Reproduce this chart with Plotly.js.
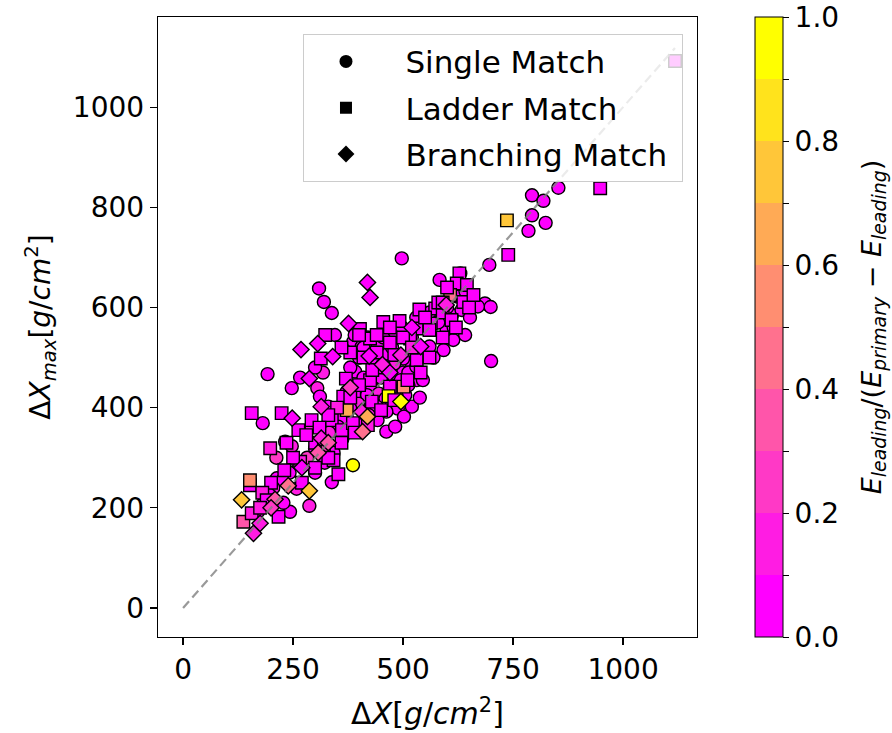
<!DOCTYPE html>
<html>
<head>
<meta charset="utf-8">
<script src="https://cdn.plot.ly/plotly-3.0.1.min.js"></script>
<style>
  html, body { margin: 0; padding: 0; background: #fff; }
  #chart { width: 892px; height: 733px; }
</style>
</head>
<body>
<div id="chart"></div>
<script>
// Single-match showers: depth difference vs. Xmax difference, colour = leading energy fraction
const singleX = [497,583,309,320,338,630,696,686,699,611,633,599,641,614,592,569,700,527,520,531,
  853,793,819,793,824,785,345,387,406,192,266,247,305,311,391,181,247,386,338,213,287,243,478,497,
  430,445,460,475,488,505,512,500,472,452,432,418,440,462,398,380,362,352,332,320,300,282,262,242,
  226,205,196,180,170,228,258,300,322,342,362,382,402,422,442,462,482,502,520,538,
  560,540,520,500,480,462,442,420,400,380,318,300,232,212,520,550,580,600,622,642,652,
  670,330,292,410,392,372,450,470,485,495,512,530,545,455,475,430,410,390,615,560,530];
const singleY = [698,655,638,611,589,668,685,608,601,585,595,555,545,535,515,500,493,465,462,455,
  839,824,813,784,769,753,545,532,522,467,460,439,439,422,472,369,323,285,251,259,204,192,552,561,
  440,428,418,408,398,425,445,470,468,478,468,425,402,392,408,398,380,362,350,332,318,300,288,270,
  255,240,226,206,192,210,238,270,290,310,338,352,368,385,375,352,362,382,402,420,
  522,502,488,498,488,508,522,540,500,480,470,480,332,300,540,560,570,600,622,632,580,
  602,402,362,460,442,432,460,440,425,455,470,482,455,540,520,500,520,545,560,590,580];
const singleC = [0.03,0.03,0.03,0.03,0.03,0.03,0.03,0.03,0.03,0.03,0.03,0.03,0.03,0.03,0.03,0.03,0.03,0.03,0.03,0.03,
  0.03,0.03,0.03,0.03,0.03,0.03,0.03,0.03,0.03,0.03,0.03,0.03,0.15,0.03,0.03,0.03,0.15,0.97,0.03,0.03,0.15,0.03,0.03,0.03,
  0.03,0.15,0.03,0.03,0.03,0.03,0.03,0.03,0.03,0.15,0.03,0.03,0.03,0.03,0.15,0.03,0.03,0.03,0.15,0.03,0.03,0.25,0.03,0.03,
  0.03,0.15,0.03,0.03,0.03,0.03,0.15,0.03,0.03,0.03,0.03,0.03,0.03,0.15,0.03,0.03,0.03,0.03,0.03,0.03,
  0.03,0.03,0.03,0.03,0.15,0.03,0.03,0.03,0.03,0.03,0.15,0.03,0.03,0.25,0.03,0.03,0.03,0.03,0.03,0.03,0.03,
  0.03,0.03,0.15,0.03,0.03,0.03,0.03,0.03,0.03,0.03,0.03,0.03,0.03,0.03,0.03,0.03,0.03,0.03,0.03,0.03,0.03];

// Ladder-match showers
const ladderX = [739,948,736,628,622,645,607,637,537,573,455,492,531,563,516,531,470,501,467,402,
  323,425,313,370,364,389,425,429,156,224,262,292,338,361,386,198,372,266,342,353,152,152,137,156,
  217,1118,410,440,470,500,550,590,610,580,600,560,520,480,455,430,400,380,350,330,310,300,280,320,
  250,230,200,180,270,300,330,360,390,420,450,480,510,540,560,590,620,650,660,380,360,470,440,590,
  400,235,190,175];
const ladderY = [705,838,774,668,648,645,625,611,596,598,571,573,558,568,538,495,442,442,423,557,
  545,538,498,458,422,433,455,412,389,389,355,375,375,355,369,319,395,292,295,267,245,255,172,189,
  182,1092,500,510,530,540,580,590,575,610,640,555,520,505,480,475,445,420,400,385,360,330,345,320,
  300,275,250,230,250,280,300,330,350,365,395,415,455,470,500,540,560,600,625,510,520,560,545,610,
  545,330,215,200];
const ladderC = [0.03,0.03,0.78,0.03,0.03,0.03,0.45,0.03,0.03,0.03,0.03,0.03,0.03,0.03,0.03,0.03,0.03,0.58,0.95,0.03,
  0.03,0.03,0.03,0.03,0.03,0.03,0.03,0.03,0.03,0.03,0.03,0.03,0.03,0.03,0.03,0.15,0.65,0.15,0.03,0.03,0.03,0.55,0.3,0.15,
  0.03,0.03,0.03,0.03,0.03,0.03,0.03,0.03,0.03,0.03,0.03,0.03,0.15,0.03,0.03,0.03,0.03,0.03,0.15,0.03,0.03,0.03,0.03,0.25,
  0.03,0.03,0.03,0.15,0.03,0.03,0.03,0.03,0.03,0.15,0.03,0.03,0.03,0.03,0.03,0.03,0.03,0.03,0.03,0.03,0.03,0.03,0.03,0.03,
  0.03,0.03,0.03,0.15];

// Branching-match showers
const branchX = [419,425,376,306,268,340,423,453,598,540,495,287,314,248,406,419,408,314,307,239,
  287,133,160,175,209,495,470,380,270,330,520,200];
const branchY = [650,620,568,528,516,502,503,486,605,522,505,458,402,379,392,382,352,339,310,244,
  234,216,149,169,217,412,470,440,280,330,560,200];
const branchC = [0.03,0.03,0.03,0.03,0.03,0.03,0.03,0.15,0.15,0.03,0.15,0.03,0.15,0.03,0.15,0.65,0.45,0.15,0.35,0.45,
  0.75,0.7,0.15,0.15,0.35,0.97,0.03,0.25,0.03,0.3,0.03,0.25];

// Reference line y = x
const diagX = [0, 1118];

// Ticks
const xTicks = [0, 250, 500, 750, 1000];
const yTicks = [0, 200, 400, 600, 800, 1000];
const cbTicks = [0, 0.1, 0.2, 0.3, 0.4, 0.5, 0.6, 0.7, 0.8, 0.9, 1.0];
const cbTickText = ['0.0', '', '0.2', '', '0.4', '', '0.6', '', '0.8', '', '1.0'];

// Legend labels
const legendNames = ['Single Match', 'Ladder Match', 'Branching Match'];

// Ten-step "spring" palette (magenta -> yellow)
const nSteps = 10;
const stepColors = [];
for (let i = 0; i < nSteps; i++) {
  const g = Math.round(255 * i / (nSteps - 1));
  const b = 255 - g;
  stepColors.push('rgb(255,' + g + ',' + b + ')');
}
const springSteps = [];
stepColors.forEach((c, i) => {
  springSteps.push([i / nSteps, c]);
  springSteps.push([(i + 1) / nSteps, c]);
});

const FONT = 'DejaVu Sans, sans-serif';
const PAD = '\u00a0\u00a0\u00a0\u00a0';

function markerFor(symbol, size, colors, withBar) {
  const m = {
    symbol: symbol,
    size: size,
    color: colors,
    colorscale: springSteps,
    cmin: 0,
    cmax: 1,
    line: { color: '#000', width: 1.4 },
    opacity: 1,
    showscale: !!withBar
  };
  if (withBar) {
    m.colorbar = {
      x: 1.1076, xanchor: 'left', xref: 'paper', xpad: 0,
      y: 0.5, yanchor: 'middle', len: 1.0, lenmode: 'fraction', ypad: 0,
      thickness: 28, thicknessmode: 'pixels',
      outlinewidth: 1, outlinecolor: '#000',
      tickmode: 'array', tickvals: cbTicks,
      ticktext: cbTickText.map(t => t ? t + '\u00a0\u2009' : t),
      ticks: 'outside', ticklen: 6, tickwidth: 1, tickcolor: '#000',
      tickfont: { family: FONT, size: 28, color: '#000' },
      title: {
        text: '<i>E<sub>leading</sub></i>/(<i>E<sub>primary</sub></i> − <i>E<sub>leading</sub></i>)',
        side: 'right',
        font: { family: FONT, size: 27, color: '#000' }
      }
    };
  }
  return m;
}

const traces = [
  {
    type: 'scatter', mode: 'markers', x: singleX, y: singleY, showlegend: false, hoverinfo: 'skip',
    marker: markerFor('circle', 13, singleC, true)
  },
  {
    type: 'scatter', mode: 'markers', x: ladderX, y: ladderY, showlegend: false, hoverinfo: 'skip',
    marker: markerFor('square', 12.5, ladderC, false)
  },
  {
    type: 'scatter', mode: 'markers', x: branchX, y: branchY, showlegend: false, hoverinfo: 'skip',
    marker: markerFor('diamond', 12.5, branchC, false)
  },
  {
    type: 'scatter', mode: 'lines', x: diagX, y: diagX, showlegend: false, hoverinfo: 'skip',
    line: { color: 'rgba(128,128,128,0.8)', width: 2.2, dash: '9px,5px' }
  },
  // legend keys in black
  { type: 'scatter', mode: 'markers', x: [null], y: [null], name: PAD + legendNames[0], legendgroup: 'g1',
    marker: { symbol: 'circle', size: 13, color: '#000' } },
  { type: 'scatter', mode: 'markers', x: [null], y: [null], name: PAD + legendNames[1], legendgroup: 'g2',
    marker: { symbol: 'square', size: 12, color: '#000' } },
  { type: 'scatter', mode: 'markers', x: [null], y: [null], name: PAD + legendNames[2] + '\u00a0', legendgroup: 'g3',
    marker: { symbol: 'diamond', size: 13, color: '#000' } }
];

const axisCommon = {
  showgrid: false, zeroline: false,
  showline: true, linecolor: '#000', linewidth: 1.3, mirror: true,
  ticks: 'outside', ticklen: 7, tickwidth: 1.3, tickcolor: '#000',
  tickfont: { family: FONT, size: 28, color: '#000' },
  automargin: false
};

const layout = {
  width: 892, height: 733,
  margin: { l: 158, r: 195, t: 17, b: 96, autoexpand: false },
  paper_bgcolor: '#fff', plot_bgcolor: '#fff',
  font: { family: FONT, color: '#000' },
  xaxis: Object.assign({}, axisCommon, {
    range: [-57, 1168], tickmode: 'array', tickvals: xTicks,
    title: { text: 'Δ<i>X</i>[<i>g</i>/<i>cm</i><sup>2</sup>]', font: { family: FONT, size: 30 }, standoff: 18 }
  }),
  yaxis: Object.assign({}, axisCommon, {
    range: [-58, 1180], tickmode: 'array', tickvals: yTicks,
    title: { text: 'Δ<i>X<sub>max</sub></i>[<i>g</i>/<i>cm</i><sup>2</sup>]', font: { family: FONT, size: 28 }, standoff: 14 }
  }),
  legend: {
    x: 0.974, xanchor: 'right', y: 0.973, yanchor: 'top',
    bgcolor: 'rgba(255,255,255,0.8)', bordercolor: '#cccccc', borderwidth: 1,
    font: { family: FONT, size: 31, color: '#000' },
    itemsizing: 'trace', indentation: 22, tracegroupgap: 3, traceorder: 'grouped'
  },
  showlegend: true
};

Plotly.newPlot('chart', traces, layout, { staticPlot: true, displayModeBar: false });
</script>
</body>
</html>
